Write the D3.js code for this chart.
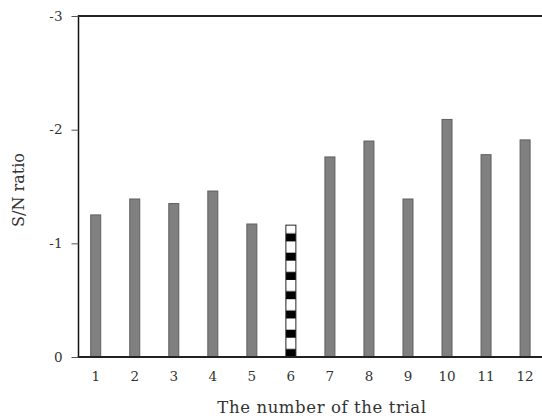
<!DOCTYPE html>
<html>
<head>
<meta charset="utf-8">
<script src="https://cdn.jsdelivr.net/npm/d3@7"></script>
<style>
  html, body { margin: 0; padding: 0; background: #fff; }
  svg { display: block; }
  text { font-family: "DejaVu Serif", serif; fill: #333; }
</style>
</head>
<body>
<div id="chart"></div>
<script>
// trial numbers and S/N ratio per trial
const trials = ["1", "2", "3", "4", "5", "6", "7", "8", "9", "10", "11", "12"];
const snRatio = [-1.25, -1.39, -1.35, -1.46, -1.17, -1.16, -1.76, -1.90, -1.39, -2.09, -1.78, -1.91];
const highlighted = ["6"];
const yTicks = [-3, -2, -1, 0];

const width = 542, height = 419;
const margin = { top: 16, right: 0, bottom: 62, left: 78 };

const svg = d3.select("#chart").append("svg")
    .attr("width", width)
    .attr("height", height);

const x = d3.scaleBand()
    .domain(trials)
    .range([76.2, 544.6])
    .paddingInner(0.744)
    .paddingOuter(0.372);

const y = d3.scaleLinear()
    .domain([0, -3])
    .range([height - margin.bottom, margin.top]);

// checkered fill for the highlighted trial, anchored at the baseline
const stripe = (y(0) - y(-1)) / 5.9;
const defs = svg.append("defs");
const pat = defs.append("pattern")
    .attr("id", "checker")
    .attr("patternUnits", "userSpaceOnUse")
    .attr("width", 20)
    .attr("height", stripe)
    .attr("y", y(0) % stripe);
pat.append("rect").attr("width", 20).attr("height", stripe).attr("fill", "#fff");
pat.append("rect").attr("y", stripe - 8).attr("width", 20).attr("height", 8).attr("fill", "#000");

// bars
svg.append("g")
    .selectAll("rect")
    .data(trials.map((t, i) => ({ t, v: snRatio[i] })))
    .join("rect")
    .attr("x", d => x(d.t))
    .attr("y", d => y(d.v))
    .attr("width", x.bandwidth())
    .attr("height", d => y(0) - y(d.v))
    .attr("fill", d => highlighted.includes(d.t) ? "url(#checker)" : "#808080")
    .attr("stroke", d => highlighted.includes(d.t) ? "#222" : "#5e5e5e")
    .attr("stroke-width", 1);

// frame lines: left, top, bottom
const x0 = margin.left + 0.5;
svg.append("line")
    .attr("x1", x0).attr("x2", x0)
    .attr("y1", y(-3)).attr("y2", y(0))
    .attr("stroke", "#111").attr("stroke-width", 1.5);
svg.append("line")
    .attr("x1", x0 - 0.75).attr("x2", width)
    .attr("y1", y(-3)).attr("y2", y(-3))
    .attr("stroke", "#222").attr("stroke-width", 2);
svg.append("line")
    .attr("x1", x0 - 0.75).attr("x2", width)
    .attr("y1", y(0)).attr("y2", y(0))
    .attr("stroke", "#222").attr("stroke-width", 1.8);

// y axis ticks (plain hyphen minus, as in the original)
const yAxis = svg.append("g")
    .attr("transform", `translate(${x0},0)`)
    .call(d3.axisLeft(y).tickValues(yTicks).tickSize(7).tickPadding(9).tickFormat(d => String(d)));
yAxis.select(".domain").remove();
yAxis.selectAll("line").attr("stroke", "#555");
yAxis.selectAll("text")
    .style("font-family", "DejaVu Serif, serif")
    .style("font-size", "13.5px")
    .attr("fill", "#333");

// x axis labels
const xAxis = svg.append("g")
    .attr("transform", `translate(0,${y(0)})`)
    .call(d3.axisBottom(x).tickSize(0).tickPadding(14));
xAxis.select(".domain").remove();
xAxis.selectAll("text")
    .style("font-family", "DejaVu Serif, serif")
    .style("font-size", "13.5px")
    .attr("fill", "#333");

// axis titles
svg.append("text")
    .attr("x", 322)
    .attr("y", 413)
    .attr("text-anchor", "middle")
    .style("font-size", "16.5px")
    .style("letter-spacing", "0.6px")
    .text("The number of the trial");

svg.append("text")
    .attr("transform", `translate(24,190) rotate(-90)`)
    .attr("text-anchor", "middle")
    .style("font-size", "16px")
    .text("S/N ratio");
</script>
</body>
</html>
